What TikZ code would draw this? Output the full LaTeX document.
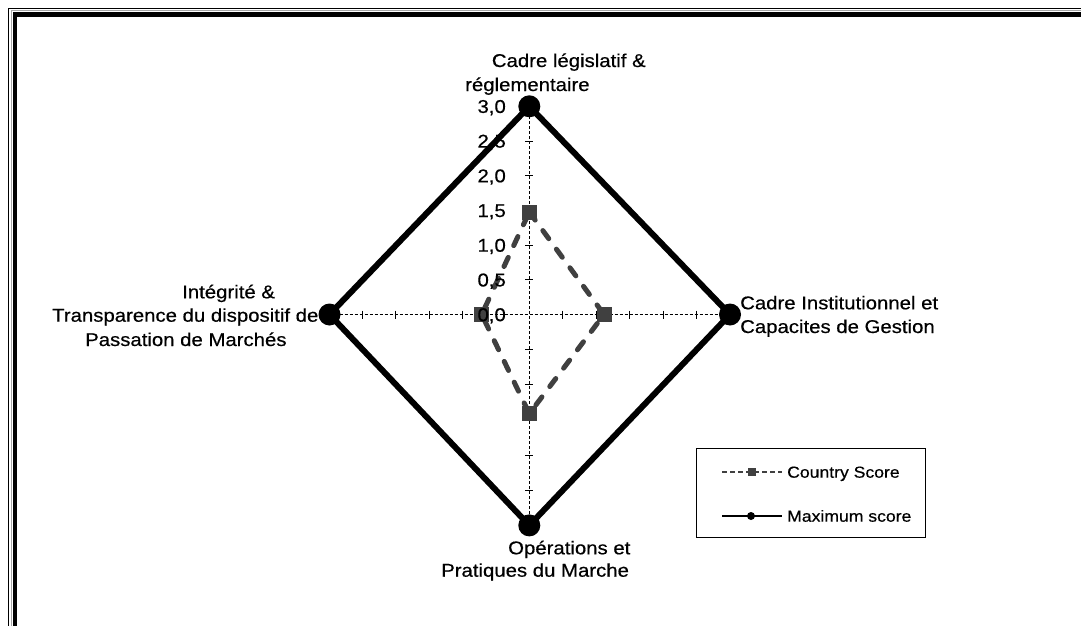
\documentclass[tikz,border=0pt]{standalone}
\usepackage{fontspec}
\setmainfont{Liberation Sans}[FakeStretch=1.1,FakeBold=0.5]
\usetikzlibrary{backgrounds}
\definecolor{cgray}{HTML}{404040}
\begin{document}
\begin{tikzpicture}[x=1pt,y=-1pt,
  maxdot/.style={circle,fill=black,inner sep=0pt,minimum size=22pt},
  csq/.style={rectangle,fill=cgray,inner sep=0pt,minimum size=15pt},
  axisline/.style={black,line width=0.8pt,dash pattern=on 3pt off 2pt},
  maxline/.style={black,line width=6pt,line join=miter},
  cline/.style={cgray,line width=5pt,line cap=round,dash pattern=on 10pt off 13pt},
  lab/.style={font=\fontsize{18.5}{22}\selectfont,inner sep=0pt,anchor=base west},
  tlab/.style={font=\fontsize{18.5}{22}\selectfont,inner sep=0pt,anchor=base east},
  leg/.style={font=\fontsize{16}{19}\selectfont,inner sep=0pt,anchor=base west}]
\useasboundingbox (0,0) rectangle (1081,626);
% frame
\draw[black,line width=1.2pt] (8.5,630) -- (8.5,8.5) -- (1085,8.5);
\draw[gray!70,line width=1pt] (11,630) -- (11,11) -- (1085,11);
\draw[black,line width=4.5pt] (14.75,630) -- (14.75,14.75) -- (1085,14.75);
% centre and max-score vertices
\coordinate (c) at (529.3,314.5);
\node[maxdot] (mt) at (529.3,106.3) {};
\node[maxdot] (mr) at (730,314.5) {};
\node[maxdot] (mb) at (529.3,525.4) {};
\node[maxdot] (ml) at (329.5,314.5) {};
% country score vertices
\node[csq] (ct) at (529.3,212) {};
\node[csq] (cr) at (604,314.5) {};
\node[csq] (cb) at (529.3,413.7) {};
\node[csq] (cl) at (481.7,314.5) {};
\begin{scope}[on background layer]
  \draw[axisline] (ml.center) -- (mr.center);
  \draw[axisline] (mt.center) -- (mb.center);
  \foreach \k in {1,...,5}{
    \draw[black,line width=0.7pt] ({529.3-\k*33.4},310.5) -- ++(0,8);
    \draw[black,line width=0.7pt] ({529.3+\k*33.5},310.5) -- ++(0,8);
    \draw[black,line width=0.7pt] (525.3,{314.5-\k*34.7}) -- ++(8,0);
    \draw[black,line width=0.7pt] (525.3,{314.5+\k*35.15}) -- ++(8,0);
  }
  \draw[maxline] (mt.center) -- (mr.center) -- (mb.center) -- (ml.center) -- cycle;
  \draw[cline] (ct.center) -- (cr.center) -- (cb.center) -- (cl.center) -- cycle;
\end{scope}
% tick labels
\foreach \v/\t in {0/{0,0},1/{0,5},2/{1,0},3/{1,5},4/{2,0},5/{2,5},6/{3,0}}{
  \node[tlab] (t\v) at (506,{314.5-\v*34.7+6.6}) {\t};
}
% category labels
\node[lab] (a1) at (491.7,67) {Cadre législatif \&};
\node[lab] (a2) at (465,91) {réglementaire};
\node[lab] (b1) at (740,309.3) {Cadre Institutionnel et};
\node[lab] (b2) at (740,333) {Capacites de Gestion};
\node[lab] (d1) at (182,298.3) {Intégrité \&};
\node[lab] (d2) at (52,321.7) {Transparence du dispositif de};
\node[lab] (d3) at (85,346) {Passation de Marchés};
\node[lab] (e1) at (508,554.3) {Opérations et};
\node[lab] (e2) at (441,576.7) {Pratiques du Marche};
% legend
\node[draw=black,line width=0.9pt,minimum width=229pt,minimum height=89pt,inner sep=0pt,anchor=north west] (lg) at (696,448) {};
\coordinate (l1a) at (722,472);
\coordinate (l1b) at (782,472);
\coordinate (l2a) at (722,516);
\coordinate (l2b) at (782,516);
\draw[cgray,line width=1.3pt,dash pattern=on 5pt off 3pt] (l1a) -- (l1b);
\node[rectangle,fill=cgray,inner sep=0pt,minimum size=8pt] (lsq) at (752,472) {};
\draw[black,line width=1.6pt] (l2a) -- (l2b);
\node[circle,fill=black,inner sep=0pt,minimum size=8pt] (ldot) at (751,516) {};
\node[leg] (lt1) at (787,477.7) {Country Score};
\node[leg] (lt2) at (787,521.7) {Maximum score};
\end{tikzpicture}
\end{document}
